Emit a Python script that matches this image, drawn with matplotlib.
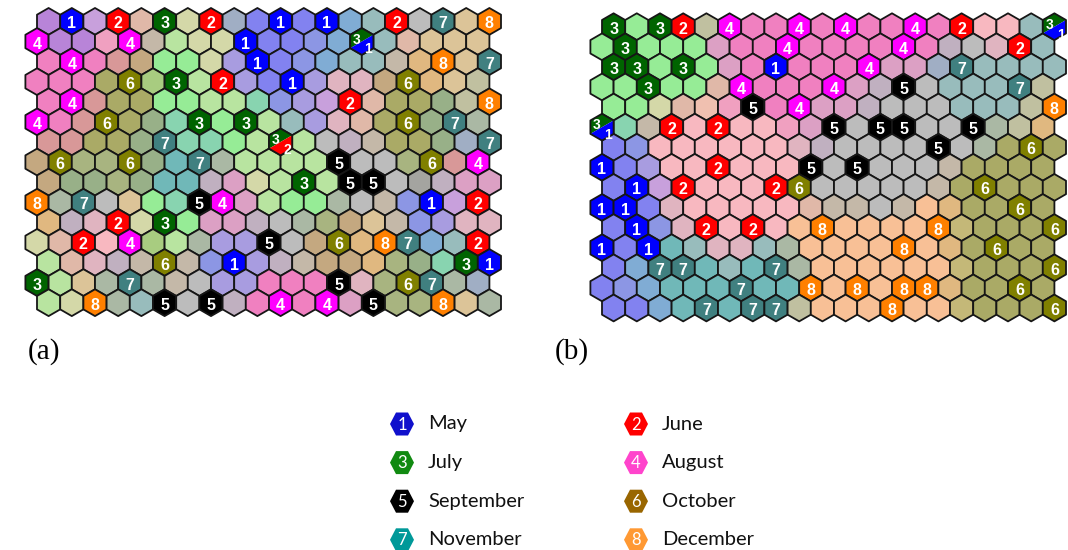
import numpy as np
import matplotlib
matplotlib.use("Agg")
from matplotlib import pyplot as plt
from matplotlib.collections import PolyCollection
from matplotlib.patches import Polygon

W, H = 1068, 550

# months, as numbered on the maps
month_nums = ["1", "2", "3", "4", "5", "6", "7", "8"]
month_names = ["May", "June", "July", "August", "September", "October", "November", "December"]
map_colors = ["#0000ff", "#ff0000", "#006400", "#ff00ff", "#000000", "#808000", "#408080", "#ff8000"]
legend_colors = ["#1010cc", "#ff0000", "#118a11", "#ff44cc", "#000000", "#996600", "#009999", "#ff9933"]

# background shades of the unlabelled units (letter codes)
shades = {
    "P": "#b884d8", "p": "#c8a0dc", "K": "#f080c0", "n": "#f0a0c0", "k": "#f8b8c0",
    "r": "#d89898", "R": "#e0b8a8", "h": "#e0b4c0", "m": "#dca0c4", "M": "#c0b0c0",
    "L": "#8282f0", "l": "#a89ce0", "C": "#8c96e4", "S": "#80acd4", "T": "#70b8b8",
    "t": "#98bcbc", "G": "#96ec96", "g": "#b8e4a0", "v": "#a8cc80", "y": "#d4d8a8",
    "N": "#88d4b0", "O": "#aaaa66", "o": "#a8b480", "s": "#98b088", "c": "#aab8a4",
    "A": "#bcbcbc", "a": "#c4b8a8", "d": "#a4a4a0", "E": "#dcc498", "e": "#f8c096",
    "f": "#f0c0b0", "Q": "#e0b880", "b": "#c4a880", "u": "#c4b878", "w": "#a0aec4",
    "z": "#c0c0a0",
}

# map (a): 15 rows x 20 units, digits = labelled unit, x = split unit
grid_a = [
    "P1p2R3y2wL1L1St2A7E8",
    "4PPn4agyy1LLCSxtREEE",
    "K4KrbGGyl1LCSttaQ8E7",
    "KKKO6v3g2lL1lhhb6QEz",
    "K4rOOGGggNClp2ROOsz8",
    "4Kr6OsN3G3gtlhRO6s7c",
    "rrOOs7NNGgxgAMaOOsw7",
    "b6oo6sT7cgggg5AAo6r4",
    "bssosTTMmyg3g55AdMmm",
    "8c7AEGN54mgGGcAaC1p2",
    "QMh2y3GmmMAcobEaClhh",
    "yR2k4vgcll5Ab6Q87St2",
    "gRhMa6aC1lMabbQosN31",
    "3gEc7caAllKKK5ho67cw",
    "gy8ct5A5MK4K4m5oo8Ec",
]
splits_a = {(1, 14): ("3", "1"), (6, 10): ("3", "2")}

# map (b)
grid_b = [
    "3G32z4KK4K4KK4K2kktx",
    "G3GGGmKK4KKKK4KMAh2t",
    "33G3GmK1KKK4mmw7tttt",
    "GG3GGR4KKK4mM5Attt7z",
    "GGyRfn5K4mmMAAAtttz8",
    "xNa2k2kknm5A55AA5czQ",
    "LCkkkkkkhMAAAA5AcO6O",
    "1Llkk2kkk5A5AAAaOOOO",
    "L1p2kkk26AAAAAaO6OOO",
    "11LhkkkkkRaaAaeQOO6O",
    "L1Ch2k2ke8eeee8uOOO6",
    "1L1Tthhtceeee8eQO6OO",
    "LS77TtT7ceeeeeeuOOO6",
    "LCSTTT7TT8e8e88QOO6O",
    "LLST7T77zeee8eeuOOO6",
]
splits_b = {(0, 19): ("3", "1"), (5, 0): ("3", "1")}

month_color = dict(zip(month_nums, map_colors))
R = 1 / np.sqrt(3)
ang = np.radians([30, 90, 150, 210, 270, 330])
lab_font = dict(color="white", fontweight="bold", family="Liberation Sans",
                ha="center", va="center")
EDGE = "#161616"


def draw_map(ax, grid, splits):
    polys, cols, outlines, pieces, piece_cols = [], [], [], [], []
    for r, row in enumerate(grid):
        for c, code in enumerate(row):
            x = c + 0.5 * (r % 2 == 0)
            y = -r * np.sqrt(3) / 2
            vx = x + R * np.cos(ang)
            vy = y + R * np.sin(ang)
            hexv = list(zip(vx, vy))
            if (r, c) in splits:
                top, bot = splits[(r, c)]
                pieces.append([hexv[i] for i in (0, 1, 2, 3)])
                piece_cols.append(month_color[top])
                pieces.append([hexv[i] for i in (3, 4, 5, 0)])
                piece_cols.append(month_color[bot])
                outlines.append(hexv)
                ax.text(x - 0.22, y + 0.08, top, fontsize=10, **lab_font)
                ax.text(x + 0.27, y - 0.34, bot, fontsize=10, **lab_font)
            elif code in month_color:
                polys.append(hexv)
                cols.append(month_color[code])
                ax.text(x, y - 0.11, code, fontsize=11.5, **lab_font)
            else:
                polys.append(hexv)
                cols.append(shades[code])
    ax.add_collection(PolyCollection(polys, facecolors=cols, edgecolors=EDGE,
                                     linewidths=1.3, zorder=1))
    ax.add_collection(PolyCollection(pieces, facecolors=piece_cols, edgecolors="none",
                                     zorder=1))
    ax.add_collection(PolyCollection(outlines, facecolors="none", edgecolors=EDGE,
                                     linewidths=1.3, zorder=1.5))


def place(fig, x0, y0, unit, xlim, ylim):
    # x0, y0: pixel position of unit (0, 0); unit: pixels per hex width
    left = x0 + unit * xlim[0]
    right = x0 + unit * xlim[1]
    top = y0 - unit * ylim[1]
    bottom = y0 - unit * ylim[0]
    ax = fig.add_axes([left / W, 1 - bottom / H, (right - left) / W, (bottom - top) / H])
    ax.set_xlim(*xlim)
    ax.set_ylim(*ylim)
    ax.axis("off")
    return ax


fig = plt.figure(figsize=(W / 100, H / 100), dpi=100)
xl = (-0.6, 20.1)
yl = (-14 * np.sqrt(3) / 2 - 0.65, 0.65)

ax_a = place(fig, 37, 21.4, 23.2, xl, yl)
draw_map(ax_a, grid_a, splits_a)
ax_b = place(fig, 602, 26.7, 23.2, xl, yl)
draw_map(ax_b, grid_b, splits_b)

# overlay in pixel units for panel tags and legend
ov = fig.add_axes([0, 0, 1, 1])
ov.set_xlim(0, W)
ov.set_ylim(H, 0)
ov.axis("off")
ov.patch.set_alpha(0)

ov.text(44, 352, "(a)", family="Liberation Serif", fontsize=21, ha="center", va="center")
ov.text(572, 352, "(b)", family="Liberation Serif", fontsize=21, ha="center", va="center")

# legend marker: flat-topped hexagon, 24 px wide, 23 px tall
leg_dx = np.array([-12, -6, 6, 12, 6, -6])
leg_dy = np.array([0, -11.5, -11.5, 0, 11.5, 11.5])
for i, (num, name, col) in enumerate(zip(month_nums, month_names, legend_colors)):
    mx = 402 + (i % 2) * 234
    my = 424 + (i // 2) * 38.6
    ov.add_patch(Polygon(np.column_stack([mx + leg_dx, my + leg_dy]),
                         facecolor=col, edgecolor="none"))
    ov.text(mx, my + 0.5, num, color="white", family="Lato", fontsize=12,
            ha="center", va="center")
    ov.text(mx + 26, my, name, color="#111111", family="Lato", fontsize=14.5,
            ha="left", va="center")

fig.savefig("out.png", dpi=100)
